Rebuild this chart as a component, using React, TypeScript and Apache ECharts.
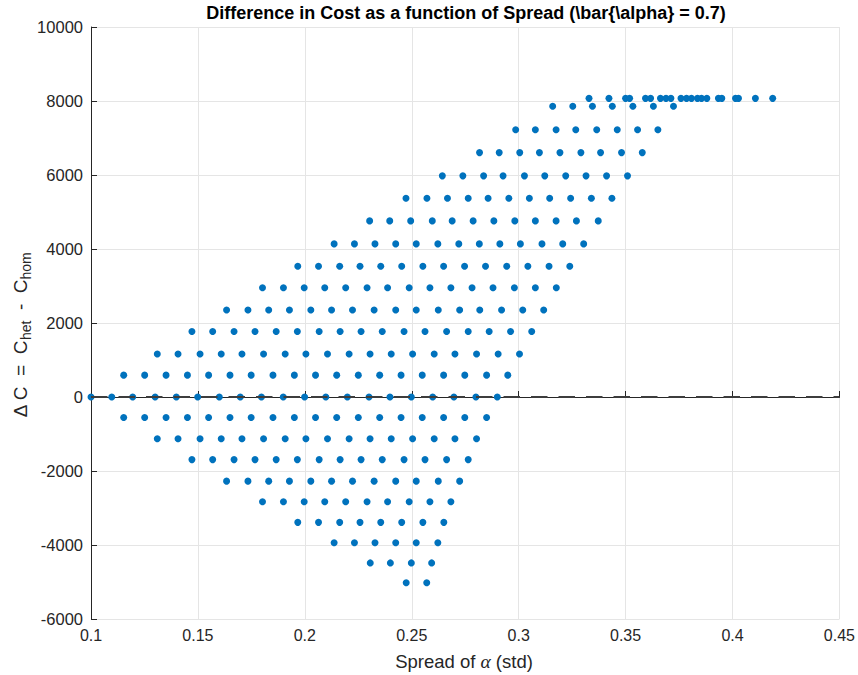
import React, { useEffect, useRef } from "react";
import * as echarts from "echarts";

// ΔC level of each row of points
const dcLevels = [8071, 7856, 7222, 6605, 5977, 5370, 4760, 4138, 3533, 2953, 2352, 1772, 1163, 591, 0, -556, -1128, -1692, -2274, -2830, -3388, -3939, -4484, -5021];

// Spread (std) values of the points in each row
const spreadTop = [0.3329, 0.3422, 0.35, 0.3519, 0.3593, 0.3617, 0.3663, 0.3689, 0.3712, 0.3759, 0.3785, 0.3808, 0.3836, 0.3855, 0.388, 0.3934, 0.395, 0.4014, 0.4028, 0.4107, 0.4188];
const spreadP13 = [0.3159, 0.3253, 0.3345, 0.3438, 0.3534, 0.363, 0.3724];
const spreadP12 = [0.2986, 0.3078, 0.3175, 0.3267, 0.3365, 0.3461, 0.3556, 0.3651];
const spreadP11 = [0.2817, 0.2909, 0.3005, 0.3097, 0.3193, 0.3291, 0.3383, 0.3481, 0.3578];
const spreadP10 = [0.2643, 0.2739, 0.2836, 0.2927, 0.3027, 0.3122, 0.322, 0.3315, 0.3411, 0.3509];
const spreadP9 = [0.2473, 0.2571, 0.2667, 0.2764, 0.2857, 0.2954, 0.305, 0.3145, 0.3243, 0.334, 0.3436];
const spreadP8 = [0.2303, 0.2397, 0.2495, 0.2596, 0.2689, 0.2787, 0.2884, 0.2982, 0.3078, 0.3175, 0.327, 0.3372];
const spreadP7 = [0.2137, 0.2232, 0.2328, 0.2425, 0.2521, 0.2622, 0.272, 0.2816, 0.2912, 0.3008, 0.3109, 0.3206, 0.3304];
const spreadP6 = [0.1967, 0.2064, 0.2163, 0.2258, 0.2355, 0.2453, 0.2552, 0.2649, 0.2747, 0.2845, 0.2944, 0.3043, 0.3142, 0.3239];
const spreadP5 = [0.1802, 0.19, 0.1997, 0.2093, 0.2191, 0.2291, 0.2387, 0.2488, 0.2585, 0.2683, 0.2782, 0.288, 0.298, 0.3078, 0.3176];
const spreadP4 = [0.1634, 0.1734, 0.1831, 0.1928, 0.2028, 0.2125, 0.2223, 0.2324, 0.2425, 0.2521, 0.2624, 0.2724, 0.2818, 0.292, 0.3019, 0.3117];
const spreadP3 = [0.1472, 0.1569, 0.1669, 0.1767, 0.1866, 0.1965, 0.2067, 0.2165, 0.2263, 0.2362, 0.2464, 0.2562, 0.2663, 0.2764, 0.2862, 0.2962, 0.3061];
const spreadP2 = [0.131, 0.1407, 0.151, 0.1609, 0.1706, 0.1807, 0.1908, 0.2005, 0.2106, 0.2207, 0.2305, 0.2404, 0.2504, 0.2605, 0.2702, 0.2803, 0.2904, 0.3004];
const spreadP1 = [0.1153, 0.1251, 0.1351, 0.1451, 0.155, 0.165, 0.1749, 0.1851, 0.1951, 0.205, 0.2149, 0.225, 0.235, 0.245, 0.2549, 0.2649, 0.2748, 0.285, 0.2949];
const spreadZ0 = [0.1, 0.1097, 0.1195, 0.13, 0.1399, 0.1499, 0.16, 0.1698, 0.1797, 0.1899, 0.1999, 0.2098, 0.2199, 0.23, 0.2398, 0.2498, 0.2598, 0.2697, 0.28, 0.29];
const spreadM1 = [0.1153, 0.1251, 0.1351, 0.1451, 0.155, 0.165, 0.1749, 0.1851, 0.1951, 0.205, 0.2149, 0.225, 0.235, 0.245, 0.2549, 0.2649, 0.2748, 0.285];
const spreadM2 = [0.131, 0.1407, 0.151, 0.1609, 0.1706, 0.1807, 0.1908, 0.2005, 0.2106, 0.2207, 0.2305, 0.2404, 0.2504, 0.2605, 0.2702, 0.2803];
const spreadM3 = [0.1472, 0.1569, 0.1669, 0.1767, 0.1866, 0.1965, 0.2067, 0.2165, 0.2263, 0.2362, 0.2464, 0.2562, 0.2663, 0.2764];
const spreadM4 = [0.1634, 0.1734, 0.1831, 0.1928, 0.2028, 0.2125, 0.2223, 0.2324, 0.2425, 0.2521, 0.2624, 0.2724];
const spreadM5 = [0.1802, 0.19, 0.1997, 0.2093, 0.2191, 0.2291, 0.2387, 0.2488, 0.2585, 0.2683];
const spreadM6 = [0.1967, 0.2064, 0.2163, 0.2258, 0.2355, 0.2453, 0.2552, 0.265];
const spreadM7 = [0.2137, 0.2232, 0.2328, 0.2425, 0.2521, 0.2622];
const spreadM8 = [0.2306, 0.24, 0.2498, 0.2593];
const spreadM9 = [0.2474, 0.257];

const spreadRows = [
  spreadTop, spreadP13, spreadP12, spreadP11, spreadP10, spreadP9, spreadP8, spreadP7,
  spreadP6, spreadP5, spreadP4, spreadP3, spreadP2, spreadP1, spreadZ0,
  spreadM1, spreadM2, spreadM3, spreadM4, spreadM5, spreadM6, spreadM7, spreadM8, spreadM9,
];

// Zero reference line (dashed)
const zeroLineX = [0.1, 0.45];
const zeroLineY = [0, 0];

// Axis ranges
const xMin = 0.1, xMax = 0.45, xStep = 0.05;
const yMin = -6000, yMax = 10000, yStep = 2000;

const titleText = "Difference in Cost as a function of Spread (\\bar{\\alpha} = 0.7)";

const FONT = '"Helvetica Neue", Helvetica, Arial, "Liberation Sans", sans-serif';
const AXIS_COLOR = "#262626";

export default function App() {
  const ref = useRef<HTMLDivElement>(null);

  useEffect(() => {
    if (!ref.current) return;
    const chart = echarts.init(ref.current, undefined, { renderer: "svg" });

    const points: number[][] = [];
    spreadRows.forEach((row, i) => {
      row.forEach((x) => points.push([x, dcLevels[i]]));
    });
    const zeroLine = zeroLineX.map((x, i) => [x, zeroLineY[i]]);

    chart.setOption({
      animation: false,
      backgroundColor: "#ffffff",
      grid: { left: 91, right: 17, top: 27, bottom: 56, containLabel: false },
      xAxis: {
        type: "value",
        min: xMin,
        max: xMax,
        interval: xStep,
        axisLine: { show: true, lineStyle: { color: AXIS_COLOR, width: 1 } },
        axisTick: { show: true, inside: true, length: 6, lineStyle: { color: AXIS_COLOR } },
        axisLabel: {
          color: AXIS_COLOR,
          fontSize: 16,
          fontFamily: FONT,
          margin: 8,
          formatter: (v: number) => String(+v.toFixed(2)),
        },
        splitLine: { show: true, lineStyle: { color: "#e5e5e5", width: 1 } },
      },
      yAxis: {
        type: "value",
        min: yMin,
        max: yMax,
        interval: yStep,
        axisLine: { show: true, lineStyle: { color: AXIS_COLOR, width: 1 } },
        axisTick: { show: true, inside: true, length: 6, lineStyle: { color: AXIS_COLOR } },
        axisLabel: {
          color: AXIS_COLOR,
          fontSize: 16.5,
          fontFamily: FONT,
          margin: 8,
          formatter: (v: number) => String(Math.round(v)),
        },
        splitLine: { show: true, lineStyle: { color: "#e5e5e5", width: 1 } },
      },
      series: [
        {
          type: "scatter",
          data: points,
          symbol: "circle",
          symbolSize: 7,
          clip: false,
          itemStyle: { color: "#0072BD", opacity: 1 },
          z: 2,
        },
        {
          type: "line",
          data: zeroLine,
          symbol: "none",
          z: 5,
          lineStyle: { color: "#3d3d3d", width: 2, type: [16.5, 11] },
        },
      ],
      graphic: [
        {
          type: "text",
          x: 466,
          y: 13,
          style: {
            text: titleText,
            fontFamily: FONT,
            fontSize: 18,
            fontWeight: "bold",
            fill: "#000000",
            align: "center",
            verticalAlign: "middle",
          },
        },
        {
          type: "text",
          x: 464,
          y: 661,
          style: {
            text: "Spread of {a|α} (std)",
            fontFamily: FONT,
            fontSize: 18.5,
            fill: AXIS_COLOR,
            align: "center",
            verticalAlign: "middle",
            rich: {
              a: { fontFamily: '"Liberation Serif", "DejaVu Serif", serif', fontStyle: "italic", fontSize: 19.5, fill: AXIS_COLOR },
            },
          },
        },
        {
          type: "text",
          x: 20,
          y: 335,
          rotation: Math.PI / 2,
          style: {
            text: "Δ C  =  C{s|het}  -  C{s|hom}",
            fontFamily: FONT,
            fontSize: 19,
            lineHeight: 25,
            fill: AXIS_COLOR,
            align: "center",
            verticalAlign: "middle",
            rich: {
              s: { fontFamily: FONT, fontSize: 14, lineHeight: 14, verticalAlign: "bottom", fill: AXIS_COLOR },
            },
          },
        },
      ],
    });

    return () => chart.dispose();
  }, []);

  return (
    <div
      ref={ref}
      style={{ position: "absolute", left: 0, top: 0, width: 858, height: 675, background: "#fff" }}
    />
  );
}
